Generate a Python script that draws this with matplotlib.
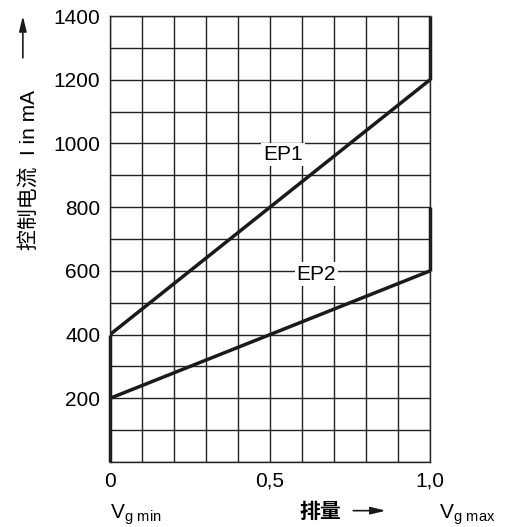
import matplotlib.pyplot as plt
import numpy as np

plt.rcParams['font.family'] = ['Liberation Sans', 'Noto Sans CJK SC', 'DejaVu Sans']

# displacement (fraction of Vg max) vs control current in mA
x_pts = [0.0, 1.0]
ep1 = [400, 1200]
ep2 = [200, 600]
ep1_top = [1200, 1400]
ep2_top = [600, 800]
x_ticks = [0, 0.5, 1.0]
x_ticklabels = ['0', '0,5', '1,0']
y_ticks = [200, 400, 600, 800, 1000, 1200, 1400]

fig = plt.figure(figsize=(5.08, 5.27), dpi=100)
ax = fig.add_axes([0.2165, 0.1233, 0.630, 0.8463])

ax.set_xlim(0, 1.0)
ax.set_ylim(0, 1400)
ax.set_xticks(x_ticks)
ax.set_xticklabels(x_ticklabels)
ax.set_yticks(y_ticks)
ax.set_xticks(np.arange(0, 1.01, 0.1), minor=True)
ax.set_yticks(np.arange(0, 1401, 100), minor=True)
ax.grid(which='both', color='#222222', lw=1.0)
ax.set_axisbelow(True)
ax.tick_params(which='both', length=0, labelsize=15, pad=7)
for s in ax.spines.values():
    s.set_color('#222222')
    s.set_linewidth(1.0)

lw = 2.5
c = '#1a1a1a'
ax.plot(x_pts, ep1, color=c, lw=lw, solid_capstyle='butt')
ax.plot(x_pts, ep2, color=c, lw=lw, solid_capstyle='butt')
ax.plot([1.0, 1.0], ep1_top, color=c, lw=lw, solid_capstyle='butt', clip_on=False)
ax.plot([1.0, 1.0], ep2_top, color=c, lw=lw, solid_capstyle='butt', clip_on=False)
ax.plot([0.0, 0.0], [0, ep1[0]], color=c, lw=lw, solid_capstyle='butt', clip_on=False)

box = dict(facecolor='white', edgecolor='none', pad=1.5)
ax.text(0.54, 965, 'EP1', fontsize=15, ha='center', va='center', bbox=box)
ax.text(0.645, 590, 'EP2', fontsize=15, ha='center', va='center', bbox=box)

arrow = dict(arrowstyle='-|>,head_length=0.9,head_width=0.22', color=c, lw=1.2)

# y axis label with arrow
fig.text(0.058, 0.677, '控制电流  I in mA', rotation=90, fontsize=15,
         ha='center', va='center')
ax.annotate('', xy=(0.045, 0.975), xytext=(0.045, 0.885), xycoords='figure fraction',
            arrowprops=arrow, annotation_clip=False)

# x axis labels
fig.text(0.2165, 0.023, '$\\mathregular{V_{g\\ min}}$', fontsize=15, ha='left', va='center')
fig.text(0.63, 0.028, '排量', fontsize=15, fontweight='bold', ha='center', va='center')
ax.annotate('', xy=(0.765, 0.031), xytext=(0.69, 0.031), xycoords='figure fraction',
            arrowprops=arrow, annotation_clip=False)
fig.text(0.865, 0.023, '$\\mathregular{V_{g\\ max}}$', fontsize=15, ha='left', va='center')

fig.savefig('out.png', dpi=100)
